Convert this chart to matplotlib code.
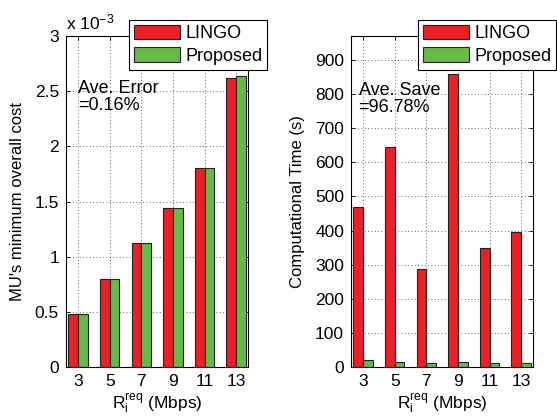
import matplotlib
matplotlib.use("Agg")
import matplotlib.pyplot as plt
import numpy as np

plt.rcParams['font.family'] = ['Liberation Sans', 'DejaVu Sans']
plt.rcParams['mathtext.fontset'] = 'custom'
plt.rcParams['mathtext.rm'] = 'Liberation Sans'
plt.rcParams['mathtext.it'] = 'Liberation Sans'

categories = ['3', '5', '7', '9', '11', '13']
cost_lingo = [0.48, 0.80, 1.12, 1.44, 1.80, 2.62]      # x 1e-3
cost_proposed = [0.48, 0.80, 1.12, 1.44, 1.80, 2.64]   # x 1e-3
time_lingo = [470, 646, 286, 859, 349, 395]
time_proposed = [21.5, 14.5, 12.5, 15.5, 10.5, 11.5]

RED = '#EC1F27'
GREEN = '#66BB46'
EDGE = '#222222'
FS = 12.5

fig = plt.figure(figsize=(5.57, 4.17), dpi=100)
W, H = 557, 417
axL = fig.add_axes([66 / W, 1 - 367 / H, 182 / W, 331 / H])
axR = fig.add_axes([351 / W, 1 - 367 / H, 182 / W, 331 / H])

x = np.arange(1, len(categories) + 1)
bw = 0.31

def style(ax):
    ax.set_xticks(x)
    ax.set_xticklabels(categories)
    ax.set_xlim(0.62, 6.37)
    ax.tick_params(direction='in', top=True, right=True, labelsize=FS, length=3, width=0.6, pad=5)
    ax.grid(True, linestyle=(0, (1, 3)), color='#333333', linewidth=0.6)
    ax.set_axisbelow(True)
    for s in ax.spines.values():
        s.set_linewidth(0.8)
    ax.set_xlabel(r'R$_\mathregular{i}^\mathregular{req}$ (Mbps)', fontsize=FS, va='top')
    ax.xaxis.set_label_coords(0.5, -0.072)

def legend(handles, right_px):
    leg = fig.legend(handles=handles, loc='upper right', bbox_to_anchor=(right_px / W, 1 - 20 / H),
                     bbox_transform=fig.transFigure, borderaxespad=0, fontsize=13, handlelength=2.55,
                     handleheight=0.87, handletextpad=0.3, labelspacing=0.3, borderpad=0.25,
                     fancybox=False, edgecolor='black', framealpha=1)
    leg.get_frame().set_linewidth(0.8)

# Left chart
bl1 = axL.bar(x - bw / 2, cost_lingo, bw, color=RED, edgecolor=EDGE, linewidth=0.8, label='LINGO')
bl2 = axL.bar(x + bw / 2, cost_proposed, bw, color=GREEN, edgecolor=EDGE, linewidth=0.8, label='Proposed')
axL.set_ylim(0, 3)
axL.set_yticks([0, 0.5, 1, 1.5, 2, 2.5, 3])
axL.set_yticklabels(['0', '0.5', '1', '1.5', '2', '2.5', '3'])
style(axL)
axL.set_ylabel("MU's minimum overall cost", fontsize=12)
axL.yaxis.set_label_coords(-0.225, 0.5)
axL.text(0.0, 1.012, r'x 10$^{\mathregular{-3}}$', transform=axL.transAxes, fontsize=FS, ha='left', va='bottom')
axL.text(0.99, 2.45, 'Ave. Error\n=0.16%', fontsize=13, ha='left', va='center', linespacing=1.0)
legend([bl1, bl2], 267)

# Right chart
br1 = axR.bar(x - bw / 2, time_lingo, bw, color=RED, edgecolor=EDGE, linewidth=0.8, label='LINGO')
br2 = axR.bar(x + bw / 2, time_proposed, bw, color=GREEN, edgecolor=EDGE, linewidth=0.8, label='Proposed')
axR.set_ylim(0, 970)
axR.set_yticks(np.arange(0, 901, 100))
style(axR)
axR.set_ylabel('Computational Time (s)', fontsize=12)
axR.yaxis.set_label_coords(-0.253, 0.5)
axR.text(0.86, 786, 'Ave. Save\n=96.78%', fontsize=13, ha='left', va='center', linespacing=1.0)
legend([br1, br2], 556)

fig.savefig('out.png', dpi=100)
